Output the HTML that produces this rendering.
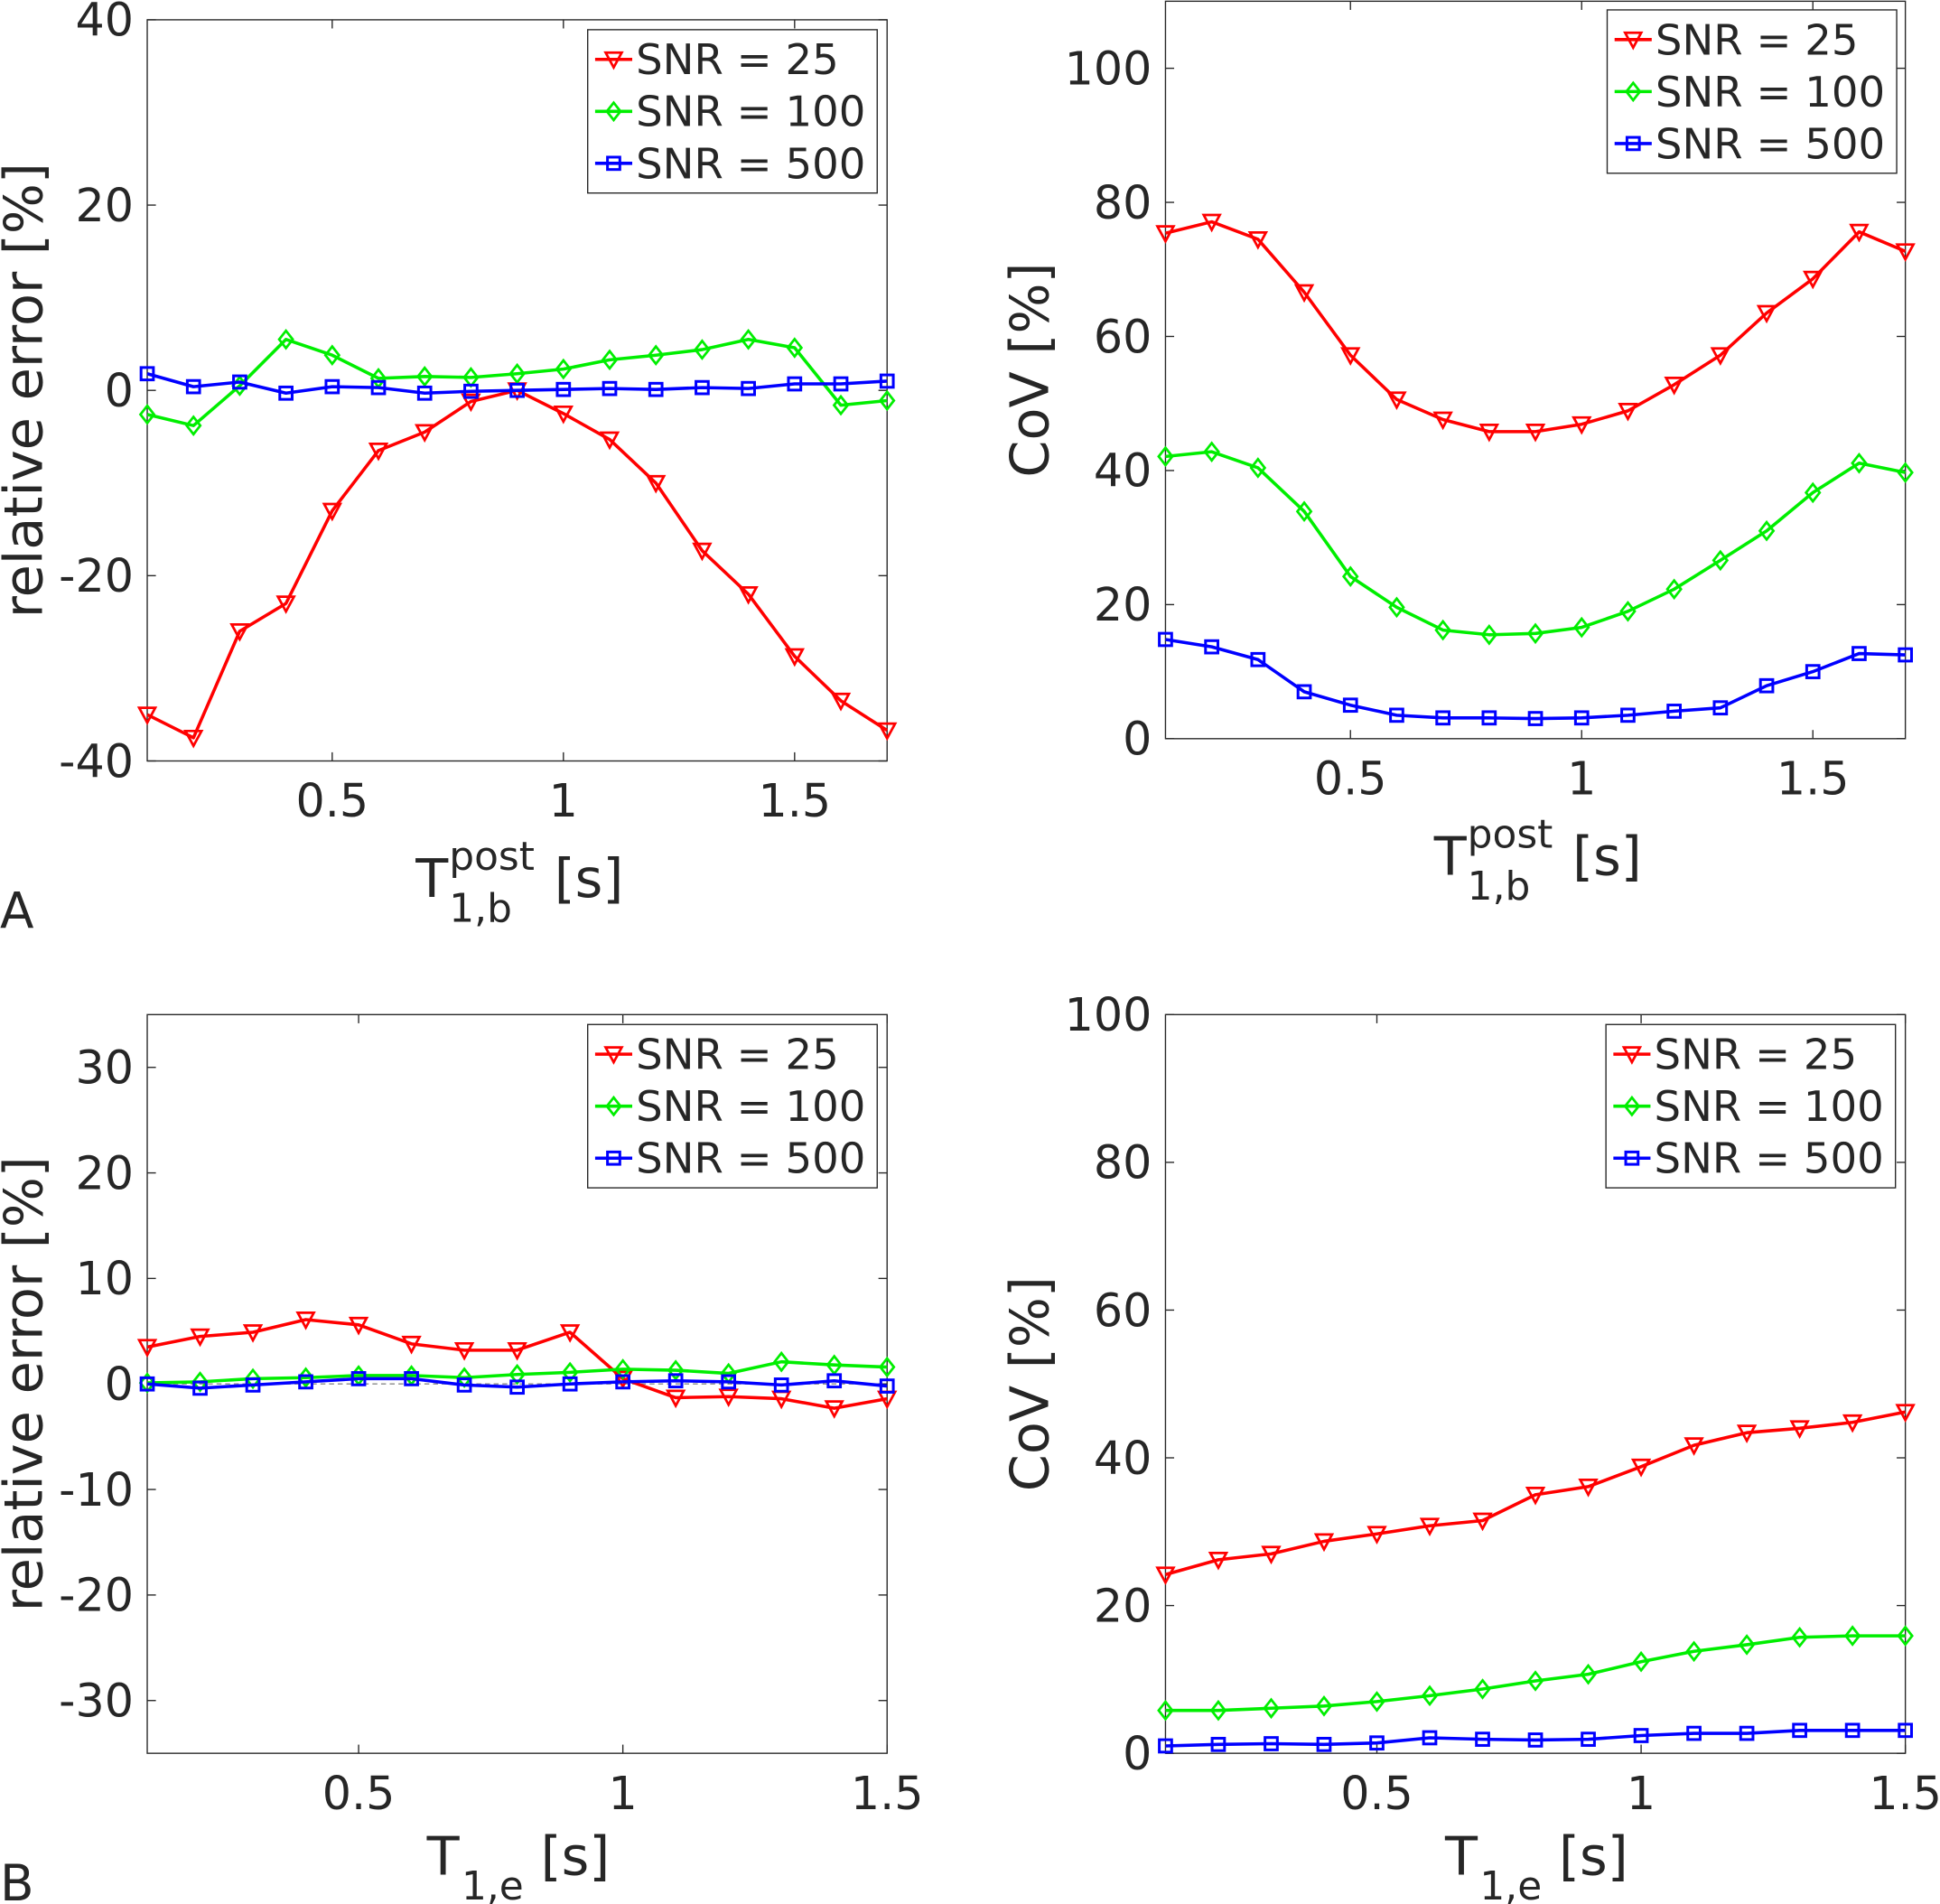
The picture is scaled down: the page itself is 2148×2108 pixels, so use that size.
<!DOCTYPE html>
<html><head><meta charset="utf-8"><style>
html,body{margin:0;padding:0;background:#fff}
svg{display:block}
text{font-family:"DejaVu Sans","Liberation Sans",sans-serif;fill:#262626}
</style></head><body>
<svg id="fig" width="2148" height="2108" viewBox="0 0 1568 1538.8" preserveAspectRatio="none" xmlns="http://www.w3.org/2000/svg"></svg>
<script>
// ---- data ----
const xA = [0.1,0.2,0.3,0.4,0.5,0.6,0.7,0.8,0.9,1.0,1.1,1.2,1.3,1.4,1.5,1.6,1.7];
const xB = [0.1,0.2,0.3,0.4,0.5,0.6,0.7,0.8,0.9,1.0,1.1,1.2,1.3,1.4,1.5];
const errA25 = [-35,-37.5,-26,-23,-13,-6.5,-4.5,-1.2,0,-2.5,-5.3,-10,-17.3,-22,-28.7,-33.5,-36.7];
const errA100 = [-2.6,-3.8,0.5,5.5,3.8,1.3,1.5,1.4,1.8,2.3,3.3,3.8,4.4,5.5,4.6,-1.6,-1.1];
const errA500 = [1.8,0.4,0.9,-0.3,0.4,0.3,-0.3,-0.1,0,0.1,0.2,0.1,0.3,0.2,0.7,0.7,1.0];
const covA25 = [75.4,77.1,74.5,66.6,57.2,50.6,47.6,45.8,45.8,46.9,48.9,52.8,57.2,63.5,68.6,75.6,72.7];
const covA100 = [42.1,42.8,40.4,33.9,24.2,19.6,16.2,15.5,15.7,16.6,19.0,22.3,26.6,31.0,36.7,41.1,39.7];
const covA500 = [14.8,13.7,11.8,7.0,5.0,3.5,3.1,3.1,3.0,3.1,3.5,4.1,4.6,7.9,10.0,12.7,12.5];
const errB25 = [3.5,4.5,4.9,6.1,5.6,3.8,3.2,3.2,4.9,0.5,-1.3,-1.2,-1.4,-2.3,-1.4];
const errB100 = [0.1,0.2,0.5,0.6,0.8,0.8,0.6,0.9,1.1,1.4,1.3,1.0,2.1,1.8,1.6];
const errB500 = [0,-0.4,-0.1,0.2,0.5,0.5,-0.1,-0.3,0,0.2,0.3,0.2,-0.1,0.3,-0.2];
const covB25 = [24.2,26.2,27.0,28.7,29.7,30.8,31.5,35.0,36.1,38.8,41.7,43.4,44.0,44.8,46.2];
const covB100 = [5.8,5.8,6.1,6.4,7.0,7.8,8.7,9.8,10.7,12.4,13.8,14.7,15.7,15.9,15.9];
const covB500 = [1.0,1.2,1.3,1.2,1.4,2.1,1.9,1.8,1.9,2.4,2.7,2.7,3.1,3.1,3.1];
const seriesNames = ["SNR = 25","SNR = 100","SNR = 500"];
const xTicks = [0.5,1,1.5];
const xTickLabels = ["0.5","1","1.5"];
const errATicks = [-40,-20,0,20,40];
const covATicks = [0,20,40,60,80,100];
const errBTicks = [-30,-20,-10,0,10,20,30];
const covBTicks = [0,20,40,60,80,100];

const NS = "http://www.w3.org/2000/svg";
const svg = document.getElementById('fig');
const COLORS = ["#ff0000","#00ee00","#0000ff"];
function el(tag, attrs, parent){
  const e = document.createElementNS(NS, tag);
  for (const k in attrs) e.setAttribute(k, attrs[k]);
  (parent||svg).appendChild(e); return e;
}
function marker(g, kind, x, y, c){
  let m;
  if (kind===0) m = el('polygon',{points:`${x-6.5},${y-5.5} ${x+6.5},${y-5.5} ${x},${y+6.5}`,fill:'none',stroke:c,'stroke-width':2},g);
  else if (kind===1) m = el('polygon',{points:`${x},${y-7} ${x+5.5},${y} ${x},${y+7} ${x-5.5},${y}`,fill:'none',stroke:c,'stroke-width':2},g);
  else m = el('rect',{x:x-5,y:y-5,width:10,height:10,fill:'none',stroke:c,'stroke-width':2.2},g);
  
  
}
function txt(g, x, y, size, s, anchor){
  const t = el('text',{x:x,y:y,'font-size':size,'text-anchor':anchor||'start'},g);
  t.textContent = s; return t;
}
function panel(p){
  const g = el('g',{});
  
  
  const X = v => p.x0 + (v - p.xmin)/(p.xmax - p.xmin)*(p.x1 - p.x0);
  const Y = v => p.y1 - (v - p.ymin)/(p.ymax - p.ymin)*(p.y1 - p.y0);
  if (p.zero){ const z = el('line',{x1:p.x0,x2:p.x1,y1:Y(0),y2:Y(0),stroke:'#888','stroke-width':1,'stroke-dasharray':'4 3'},g);
      }
  const box = el('rect',{x:p.x0,y:p.y0,width:p.x1-p.x0,height:p.y1-p.y0,fill:'none',stroke:'#262626','stroke-width':1},g);
   
  xTicks.forEach((t,i)=>{
    const x = X(t);
    el('line',{x1:x,x2:x,y1:p.y1,y2:p.y1-7,stroke:'#262626','stroke-width':1},g);
    el('line',{x1:x,x2:x,y1:p.y0,y2:p.y0+7,stroke:'#262626','stroke-width':1},g);
    const tx = txt(g, x, p.y1+45, 37, xTickLabels[i], 'middle');
     
  });
  p.yTicks.forEach(t=>{
    const y = Y(t);
    el('line',{x1:p.x0,x2:p.x0+7,y1:y,y2:y,stroke:'#262626','stroke-width':1},g);
    el('line',{x1:p.x1,x2:p.x1-7,y1:y,y2:y,stroke:'#262626','stroke-width':1},g);
    const ty = txt(g, p.x0-11, y+13, 37, String(t), 'end');
     
  });
  p.series.forEach((s,k)=>{
    const pts = p.xs.map((xv,i)=>`${X(xv)},${Y(s[i])}`).join(' ');
    const pl = el('polyline',{points:pts,fill:'none',stroke:COLORS[k],'stroke-width':2.6,'stroke-linejoin':'round'},g);
     
    p.xs.forEach((xv,i)=>marker(g,k,X(xv),Y(s[i]),COLORS[k]));
  });
  const lg = el('g',{},g);
   
  el('rect',{x:p.lx,y:p.ly,width:234,height:132,fill:'#fff',stroke:'#262626','stroke-width':1},lg);
  seriesNames.forEach((n,k)=>{
    const yy = p.ly + 24 + k*42;
    const le = el('g',{},lg);
     
    el('line',{x1:p.lx+6,x2:p.lx+36,y1:yy,y2:yy,stroke:COLORS[k],'stroke-width':2.6},le);
    marker(le,k,p.lx+21,yy,COLORS[k]);
    txt(le, p.lx+39, yy+12, 34, n);
  });
  const yl = el('text',{transform:`translate(${p.ylx},${(p.y0+p.y1)/2}) rotate(-90)`,'text-anchor':'middle','font-size':43},g);
  yl.textContent = p.ylabel;
   
  const xg = el('g',{},g);
   
  const cx = (p.x0+p.x1)/2;
  if (p.post){
    const b = p.y1 + 110;
    txt(xg, cx-82, b, 43, 'T');
    txt(xg, cx-55, b-22, 32, 'post');
    txt(xg, cx-55, b+20, 32, '1,b');
    txt(xg, cx+30, b, 43, '[s]');
  } else {
    const b = p.y1 + 98;
    txt(xg, cx-73, b, 43, 'T');
    txt(xg, cx-45, b+20, 32, '1,e');
    txt(xg, cx+19, b, 43, '[s]');
  }
}
panel({name:'panel-a-relative-error',x0:119,x1:717,y0:16,y1:615,xmin:0.1,xmax:1.7,ymin:-40,ymax:40,yTicks:errATicks,xs:xA,series:[errA25,errA100,errA500],lx:475,ly:24,ylabel:'relative error [%]',ylx:34,post:true});
panel({name:'panel-a-cov',x0:942,x1:1540,y0:1,y1:597,xmin:0.1,xmax:1.7,ymin:0,ymax:110,yTicks:covATicks,xs:xA,series:[covA25,covA100,covA500],lx:1299,ly:8,ylabel:'CoV [%]',ylx:847,post:true});
panel({name:'panel-b-relative-error',x0:119,x1:717,y0:820,y1:1417,xmin:0.1,xmax:1.5,ymin:-35,ymax:35,yTicks:errBTicks,xs:xB,series:[errB25,errB100,errB500],lx:475,ly:828,ylabel:'relative error [%]',ylx:34,post:false,zero:true});
panel({name:'panel-b-cov',x0:942,x1:1540,y0:820,y1:1417,xmin:0.1,xmax:1.5,ymin:0,ymax:100,yTicks:covBTicks,xs:xB,series:[covB25,covB100,covB500],lx:1298,ly:828,ylabel:'CoV [%]',ylx:847,post:false});
const la = el('text',{x:0,y:750,'font-size':40}); la.textContent='A';
 
const lb = el('text',{x:0,y:1536,'font-size':40}); lb.textContent='B';
 
</script>
</body></html>
